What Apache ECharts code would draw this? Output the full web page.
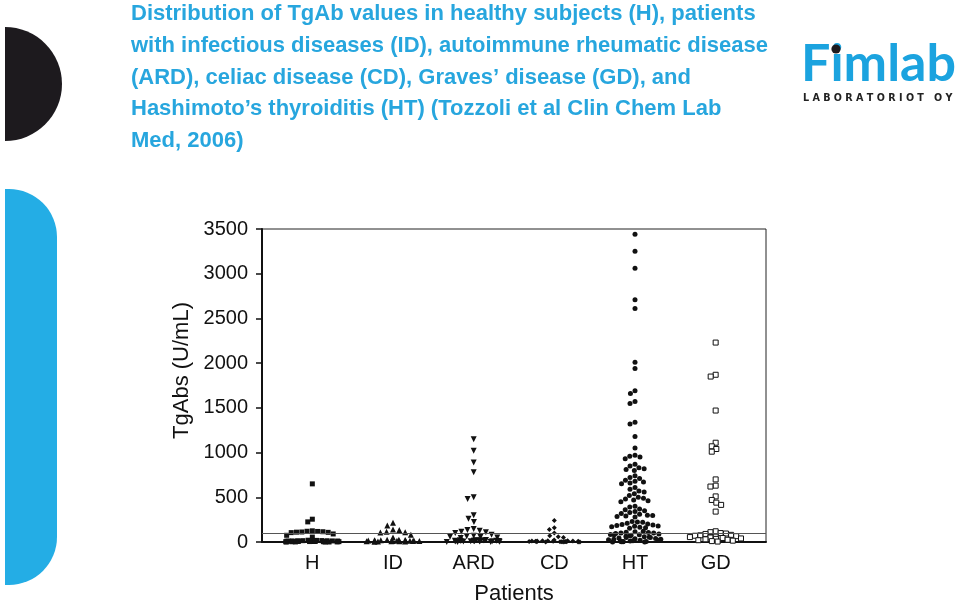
<!DOCTYPE html>
<html><head><meta charset="utf-8">
<script src="https://cdn.jsdelivr.net/npm/echarts@6/dist/echarts.min.js"></script>
<style>html,body{margin:0;padding:0;background:#fff}#c{width:960px;height:602px}</style>
</head><body><div id="c"></div>
<script>
const categories = ['H', 'ID', 'ARD', 'CD', 'HT', 'GD'];
const yTicks = { min: 0, max: 3500, interval: 500 };
const cutoff = 100;

const H = [650, 255, 225, 125, 120, 118, 115, 112, 110, 108, 105, 90, 75, 55,
  20, 18, 16, 15, 14, 13, 12, 12, 11, 10, 10, 9, 8, 8, 7, 6, 6, 5, 5, 4, 4, 3, 3, 2, 2, 1, 1, 0, 0];
const ID = [215, 185, 140, 135, 115, 110, 105, 80, 50,
  25, 24, 22, 20, 19, 18, 17, 16, 15, 14, 13, 12, 11, 10, 9, 8, 7, 6, 5, 4];
const ARD = [1150, 1020, 890, 780, 500, 480, 300, 260, 225, 145, 135, 125, 115, 110, 100,
  80, 70, 65, 60, 55, 50, 45,
  22, 20, 19, 18, 17, 16, 15, 14, 13, 12, 11, 10, 9, 8, 7, 6, 5, 5, 4, 3, 2, 1, 0];
const CD = [240, 160, 140, 100, 70, 60, 50, 22,
  15, 14, 13, 12, 11, 10, 9, 8, 7, 6, 5, 4, 3, 3, 2, 2, 1, 1, 0, 0];
const HT = [3440, 3250, 3060, 2710, 2610, 2010, 1940, 1690, 1660, 1570, 1550, 1340, 1320, 1180, 1050,
  970, 960, 950, 930,
  870, 850, 830, 820, 810, 800,
  740, 720, 710, 690, 680, 670, 660, 650,
  610, 590, 570, 560, 540, 520, 500, 490, 480, 470, 460, 450,
  400, 390, 370, 360, 350, 340, 330, 320, 310, 300, 295, 290, 285, 280,
  230, 225, 220, 210, 200, 195, 190, 185, 180, 175, 170, 165, 160, 155,
  120, 115, 110, 105, 100, 100, 95, 90, 85, 80, 80, 75, 70, 65, 60, 55, 50, 50, 45, 40,
  35, 30, 30, 25, 20, 20, 15, 10, 10, 5, 5, 3, 2, 1, 0];
const GD = [2230, 1870, 1850, 1470, 1110, 1070, 1040, 1010, 700, 630, 620, 510, 470, 440, 415, 340,
  120, 110, 100, 95, 90, 80, 75, 70, 65, 60, 55, 50, 45, 40, 35, 30, 25, 20, 15, 10, 5];

const groups = [
  { name: 'H', values: H, symbol: 'rect', size: 5, color: '#111', border: '#111' },
  { name: 'ID', values: ID, symbol: 'triangle', size: 6, color: '#111', border: '#111' },
  { name: 'ARD', values: ARD, symbol: 'path://M0,0 L10,0 L5,9 Z', size: 6, color: '#111', border: '#111' },
  { name: 'CD', values: CD, symbol: 'diamond', size: 5, color: '#111', border: '#111' },
  { name: 'HT', values: HT, symbol: 'circle', size: 5, color: '#111', border: '#111' },
  { name: 'GD', values: GD, symbol: 'rect', size: 5, color: '#fff', border: '#111' }
];

const chart = echarts.init(document.getElementById('c'));
const blue = '#27a6de';
const font = 'Liberation Sans, Arial, sans-serif';

const series = groups.map(g => ({
  type: 'scatter', name: g.name, xAxisIndex: 1, yAxisIndex: 1,
  symbol: g.symbol, symbolSize: g.size,
  itemStyle: { color: g.color, borderColor: g.border, borderWidth: g.color === '#fff' ? 1 : 0, opacity: 1 },
  data: g.values.map(v => [g.name, v]),
  silent: true
}));
series.push({
  type: 'scatter', xAxisIndex: 0, yAxisIndex: 0, data: [], silent: true,
  markLine: { silent: true, symbol: ['none', 'none'], label: { show: false },
    lineStyle: { color: '#555', width: 1, type: 'solid' }, data: [{ yAxis: cutoff }] }
});

chart.setOption({
  animation: false,
  backgroundColor: '#fff',
  title: {
    text: 'Distribution of TgAb values in healthy subjects (H), patients\nwith infectious diseases (ID), autoimmune rheumatic disease\n(ARD), celiac disease (CD), Graves\u2019 disease (GD), and\nHashimoto\u2019s thyroiditis (HT) (Tozzoli et al Clin Chem Lab\nMed, 2006)',
    left: 131, top: -2, padding: 0,
    textStyle: { color: blue, fontFamily: 'Liberation Sans, Arial, sans-serif', fontWeight: 'bold', fontSize: 22, lineHeight: 31.8 }
  },
  grid: [
    { left: 262, right: 194, top: 229, bottom: 60, show: true, borderColor: '#222', borderWidth: 1, containLabel: false, outerBoundsMode: 'none' },
    { left: 272, right: 204, top: 229, bottom: 60, containLabel: false, outerBoundsMode: 'none' }
  ],
  xAxis: [
    { gridIndex: 0, type: 'value', min: 0, max: 1, axisLabel: { show: false }, axisTick: { show: false }, splitLine: { show: false },
      axisLine: { show: true, lineStyle: { color: '#111', width: 2 } },
      name: 'Patients', nameLocation: 'middle', nameGap: 41,
      nameTextStyle: { fontFamily: font, fontSize: 22, color: '#111' } },
    { gridIndex: 1, type: 'category', data: categories, boundaryGap: true,
      jitter: 54, jitterOverlap: false, jitterMargin: 0.3,
      axisLine: { show: false }, axisTick: { show: false }, splitLine: { show: false },
      axisLabel: { fontFamily: font, fontSize: 20, color: '#111', margin: 11 } }
  ],
  yAxis: [
    { gridIndex: 0, type: 'value', min: yTicks.min, max: yTicks.max, interval: yTicks.interval,
      axisLine: { show: true, lineStyle: { color: '#111', width: 2 } },
      axisTick: { show: true, inside: false, length: 6, lineStyle: { color: '#111', width: 1.5 } },
      axisLabel: { fontFamily: font, fontSize: 20, color: '#111', margin: 14, formatter: v => String(v) },
      splitLine: { show: false },
      name: 'TgAbs (U/mL)', nameLocation: 'middle', nameGap: 68, nameRotate: 90,
      nameTextStyle: { fontFamily: font, fontSize: 22, color: '#111', padding: [0, 0, 0, 30] } },
    { gridIndex: 1, type: 'value', min: yTicks.min, max: yTicks.max, interval: yTicks.interval, show: false }
  ],
  series: series,
  graphic: [
    { type: 'sector', shape: { cx: 5, cy: 84, r: 57, r0: 0, startAngle: -Math.PI / 2, endAngle: Math.PI / 2, clockwise: true },
      style: { fill: '#1d1a1e' }, silent: true },
    { type: 'rect', shape: { x: 5, y: 189, width: 52, height: 396, r: [0, 48, 48, 0] },
      style: { fill: '#24ade5' }, silent: true },
    { type: 'text', left: 801, top: 38,
      style: { text: 'Fimlab', fill: '#1ba3df', font: 'bold 52px Lato, "Open Sans", sans-serif' }, silent: true, z: 10 },
    { type: 'circle', shape: { cx: 836, cy: 49, r: 4.6 }, style: { fill: '#1e1b1f' }, silent: true, z: 11 },
    { type: 'text', left: 803, top: 93,
      style: { text: 'L A B O R A T O R I O T   O Y', fill: '#222', font: 'bold 9.6px "DejaVu Sans", sans-serif' }, silent: true }
  ]
});
</script></body></html>
